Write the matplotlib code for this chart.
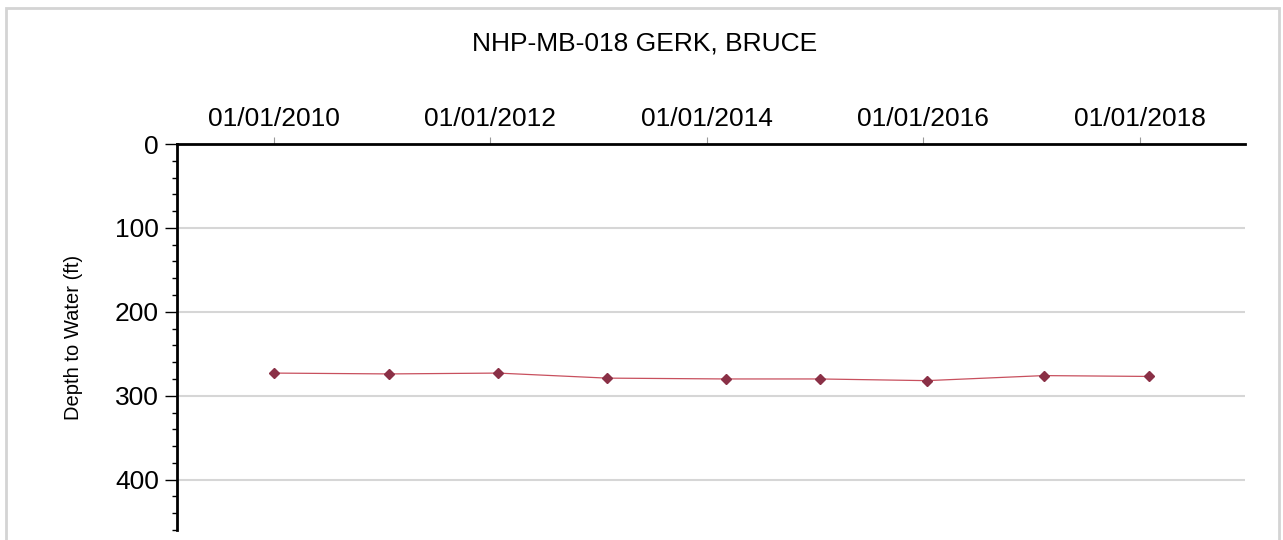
import pandas as pd
import matplotlib
matplotlib.use("Agg")
import matplotlib.pyplot as plt
import matplotlib.dates as mdates
from matplotlib.patches import Rectangle
from matplotlib.ticker import MultipleLocator

plt.rcParams['font.family'] = ['Liberation Sans', 'DejaVu Sans']

# measurement dates and depth to water (ft)
dates = pd.to_datetime(["2010-01-01", "2011-01-24", "2012-01-27", "2013-01-28",
                        "2014-03-06", "2015-01-16", "2016-01-12", "2017-02-10",
                        "2018-01-31"])
depth = [273, 274, 273, 279, 280, 280, 282, 276, 277]
tick_dates = pd.to_datetime(["2010-01-01", "2012-01-01", "2014-01-01",
                             "2016-01-01", "2018-01-01"])
title = "NHP-MB-018 GERK, BRUCE"

fig = plt.figure(figsize=(12.83, 5.40), dpi=100)
W, H = 1283, 540
ax = fig.add_axes([177 / W, 1 - 530 / H, (1245 - 177) / W, (530 - 144) / H])

# outer frame
fig.patches.append(Rectangle((6 / W, -0.05), (1279 - 6) / W, 1 - 8 / H + 0.05,
                             transform=fig.transFigure, fill=False,
                             edgecolor='#d4d4d4', linewidth=2))

ax.plot(dates, depth, color='#c8505e', linewidth=0.9, zorder=3)
ax.plot(dates, depth, linestyle='none', marker='D', markersize=5.5,
        color='#8a3046', zorder=4)

ax.set_ylim(460, 0)
ax.set_xlim(pd.Timestamp("2009-02-08"), pd.Timestamp("2018-12-21"))

ax.xaxis.tick_top()
ax.set_xticks(tick_dates)
ax.xaxis.set_major_formatter(mdates.DateFormatter("%m/%d/%Y"))
ax.set_yticks([0, 100, 200, 300, 400])
ax.yaxis.set_minor_locator(MultipleLocator(20))

for s in ['right', 'bottom']:
    ax.spines[s].set_visible(False)
for s in ['top', 'left']:
    ax.spines[s].set_linewidth(2)
    ax.spines[s].set_color('black')

ax.tick_params(axis='x', which='major', direction='out', length=5, width=0.8,
               labelsize=19, pad=4, colors='#999999', labelcolor='black')
ax.tick_params(axis='y', which='major', direction='out', length=9, width=1,
               labelsize=19, pad=4)
ax.tick_params(axis='y', which='minor', direction='out', length=3.5, width=1)

ax.grid(axis='y', which='major', color='#d6d6d6', linewidth=1.5)
ax.set_axisbelow(True)

ax.set_ylabel("Depth to Water (ft)", fontsize=14.5)
ax.yaxis.set_label_coords(-0.088, 0.5)

fig.text(645 / W, 1 - 43 / H, title, fontsize=19, ha='center', va='center')

fig.savefig("out.png", dpi=100)
